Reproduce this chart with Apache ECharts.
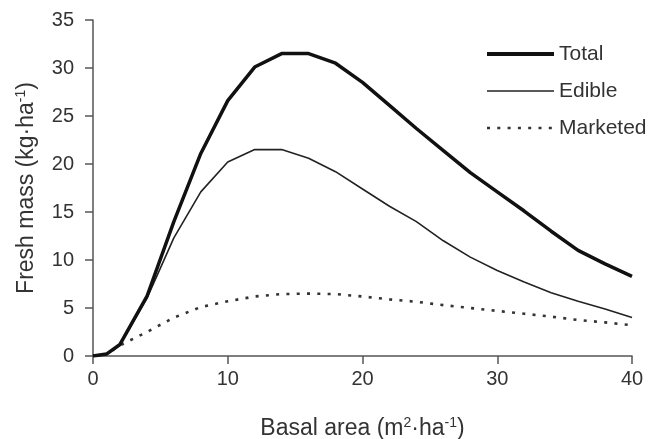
<!DOCTYPE html>
<html>
<head>
<meta charset="utf-8">
<script src="https://cdn.jsdelivr.net/npm/echarts@6/dist/echarts.min.js"></script>
<style>
html,body{margin:0;padding:0;background:#fff;}
#chart{width:654px;height:439px;}
</style>
</head>
<body>
<div id="chart"></div>
<script>
var basalArea = [0, 1, 2, 4, 6, 8, 10, 12, 14, 16, 18, 20, 22, 24, 26, 28, 30, 32, 34, 36, 38, 40];
var totalMass = [0, 0.2, 1.2, 6.2, 14.0, 21.1, 26.6, 30.1, 31.5, 31.5, 30.5, 28.5, 26.1, 23.7, 21.4, 19.1, 17.1, 15.1, 13.0, 11.0, 9.6, 8.3];
var edibleMass = [0, 0.2, 1.2, 6.0, 12.3, 17.1, 20.2, 21.5, 21.5, 20.6, 19.2, 17.4, 15.6, 14.0, 12.0, 10.3, 8.9, 7.7, 6.6, 5.7, 4.9, 4.0];
var marketedMass = [0, 0.2, 1.1, 2.5, 4.0, 5.1, 5.7, 6.2, 6.45, 6.5, 6.45, 6.2, 5.9, 5.65, 5.3, 5.0, 4.7, 4.4, 4.1, 3.75, 3.5, 3.2];
var seriesNames = ['Total', 'Edible', 'Marketed'];
var xTitle = 'Basal area (m{sup|2}·ha{sup|-1})';
var yTitle = 'Fresh mass (kg·ha{sup|-1})';

function pairs(ys) { return basalArea.map(function (x, i) { return [x, ys[i]]; }); }

var FONT = '"Liberation Sans", Arial, sans-serif';
var TXT = '#333';
var legendWidths = [4, 1.6, 2.6];
var chart = echarts.init(document.getElementById('chart'));
chart.setOption({
  animation: false,
  backgroundColor: '#fff',
  grid: { left: 93, right: 22, top: 20, bottom: 83, containLabel: false, outerBoundsMode: 'none' },
  legend: {
    orient: 'vertical',
    left: 485,
    top: 43,
    padding: 0,
    itemWidth: 67,
    itemHeight: 14,
    itemGap: 15,
    data: seriesNames.map(function (n, i) { return { name: n, lineStyle: { width: legendWidths[i] } }; }),
    itemStyle: { opacity: 0 },
    textStyle: { fontFamily: FONT, fontSize: 21, color: TXT, lineHeight: 22 }
  },
  xAxis: {
    type: 'value',
    min: 0, max: 40, interval: 10,
    name: xTitle,
    nameLocation: 'middle',
    nameGap: 60,
    nameTextStyle: {
      fontFamily: FONT, fontSize: 23, color: TXT, lineHeight: 25,
      rich: { sup: { fontFamily: FONT, fontSize: 14, color: TXT, verticalAlign: 'top', lineHeight: 25, padding: [0,0,10,0] } }
    },
    axisLine: { show: true, lineStyle: { color: '#555', width: 1.5 } },
    axisTick: { show: true, inside: false, length: 8, lineStyle: { color: '#555', width: 1.5 } },
    axisLabel: { fontFamily: FONT, fontSize: 20, color: TXT, margin: 13 },
    splitLine: { show: false }
  },
  yAxis: {
    type: 'value',
    min: 0, max: 35, interval: 5,
    name: yTitle,
    nameLocation: 'middle',
    nameGap: 54,
    nameTextStyle: {
      fontFamily: FONT, fontSize: 23, color: TXT, lineHeight: 25,
      rich: { sup: { fontFamily: FONT, fontSize: 14, color: TXT, verticalAlign: 'top', lineHeight: 25, padding: [0,0,10,0] } }
    },
    axisLine: { show: true, lineStyle: { color: '#555', width: 1.5 } },
    axisTick: { show: true, inside: false, length: 8, lineStyle: { color: '#555', width: 1.5 } },
    axisLabel: { fontFamily: FONT, fontSize: 20, color: TXT, margin: 19 },
    splitLine: { show: false }
  },
  series: [
    { name: seriesNames[0], type: 'line', data: pairs(totalMass), symbol: 'none', z: 3,
      lineStyle: { color: '#111', width: 3.5 }, itemStyle: { color: '#111' } },
    { name: seriesNames[1], type: 'line', data: pairs(edibleMass), symbol: 'none', z: 2,
      lineStyle: { color: '#222', width: 1.6 }, itemStyle: { color: '#222' } },
    { name: seriesNames[2], type: 'line', data: pairs(marketedMass), symbol: 'none', z: 1,
      lineStyle: { color: '#333', width: 2.6, type: [3, 7.3] }, itemStyle: { color: '#333' } }
  ]
});
</script>
</body>
</html>
